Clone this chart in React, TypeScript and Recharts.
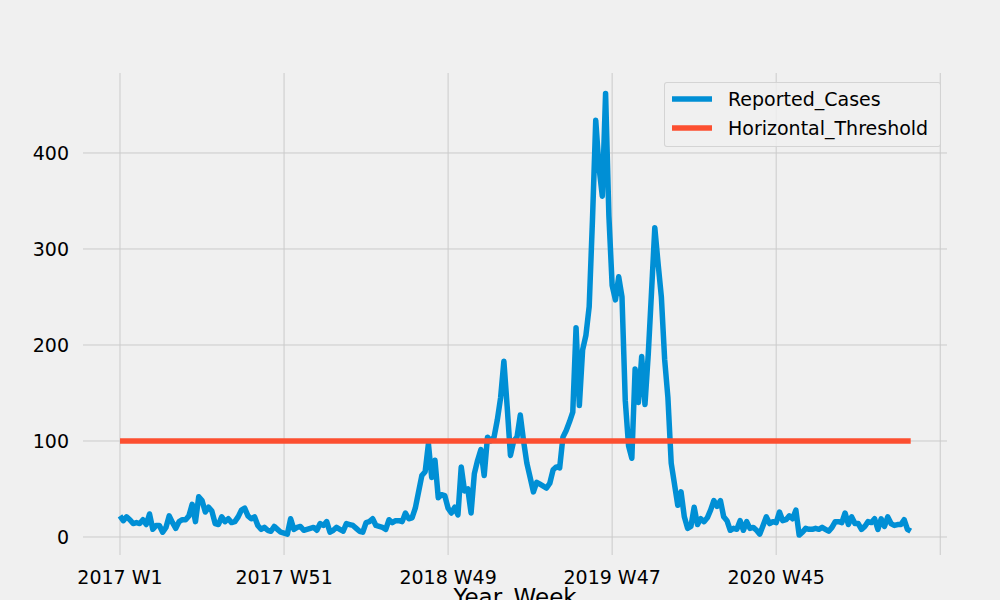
import React from "react";
import {
  LineChart,
  Line,
  CartesianGrid,
  XAxis,
  YAxis,
} from "recharts";

// weekly reported cases, starting 2017 W1
const reportedCases = [
  22, 17, 21, 18, 14, 15, 14, 18, 13, 24,
  8, 12, 12, 5, 10, 22, 15, 9, 16, 18,
  18, 22, 34, 16, 42, 38, 26, 31, 27, 14,
  13, 21, 16, 19, 15, 16, 21, 28, 30, 22,
  19, 21, 12, 8, 10, 7, 6, 11, 8, 5,
  4, 3, 19, 8, 10, 11, 7, 8, 9, 10,
  7, 14, 12, 16, 5, 7, 10, 8, 6, 14,
  13, 12, 9, 6, 5, 15, 16, 19, 12, 11,
  10, 8, 18, 15, 17, 17, 16, 25, 19, 20,
  30, 47, 64, 68, 97, 62, 80, 41, 44, 43,
  30, 25, 31, 23, 73, 48, 50, 25, 66, 80,
  91, 64, 104, 100, 104, 122, 145, 183, 136, 85,
  100, 104, 127, 100, 77, 62, 47, 57, 55, 53,
  51, 56, 70, 73, 72, 104, 111, 120, 130, 218,
  137, 195, 210, 240, 330, 434, 385, 355, 462, 335,
  262, 247, 271, 250, 142, 95, 82, 175, 140, 188,
  138, 190, 255, 322, 285, 250, 185, 145, 77, 55,
  33, 47, 21, 9, 11, 31, 13, 19, 16, 20,
  28, 38, 32, 38, 21, 17, 7, 9, 8, 17,
  7, 16, 9, 10, 7, 3, 12, 21, 14, 16,
  15, 26, 17, 18, 22, 19, 28, 2, 5, 9,
  8, 8, 9, 8, 10, 8, 6, 10, 16, 16,
  15, 25, 13, 21, 14, 14, 8, 11, 16, 15,
  19, 8, 19, 11, 21, 14, 12, 13, 13, 18,
  8, 6,
];

const THRESHOLD = 100;

const xTicks = [0, 50, 100, 150, 200, 250];
const xTickLabels = ["2017 W1", "2017 W51", "2018 W49", "2019 W47", "2020 W45", ""];
const yTicks = [0, 100, 200, 300, 400];

const BLUE = "#008fd5";
const RED = "#fc4f30";
const BG = "#f0f0f0";
const FONT = "'DejaVu Sans', sans-serif";

const data = reportedCases.map((v, i) => ({
  idx: i,
  Reported_Cases: v,
  Horizontal_Threshold: THRESHOLD,
}));

const legendItems = [
  { name: "Reported_Cases", color: BLUE },
  { name: "Horizontal_Threshold", color: RED },
];

// drawn on top of the chart so it doesn't shrink the plot area
const LegendBox = () => (
  <div
    style={{
      position: "absolute",
      left: 664,
      top: 82,
      width: 277,
      height: 65,
      boxSizing: "border-box",
      background: "rgba(240,240,240,0.8)",
      border: "1px solid rgba(204,204,204,0.8)",
      borderRadius: 3,
      fontFamily: FONT,
      fontSize: 19,
      color: "#000",
    }}
  >
    {legendItems.map((it, i) => (
      <div
        key={it.name}
        style={{ position: "absolute", left: 0, top: 4 + i * 29, height: 24, width: 277 }}
      >
        <svg width={50} height={24} style={{ position: "absolute", left: 7, top: 0 }}>
          <line x1={0} y1={12} x2={40} y2={12} stroke={it.color} strokeWidth={5.5} />
        </svg>
        <span style={{ position: "absolute", left: 63, top: 0, lineHeight: "24px" }}>{it.name}</span>
      </div>
    ))}
  </div>
);

export default function App() {
  return (
    <div style={{ position: "absolute", left: 0, top: 0, width: 1000, height: 600, background: BG }}>
      <LineChart
        width={1000}
        height={600}
        data={data}
        margin={{ top: 73, right: 53, left: 0, bottom: 0 }}
        style={{ background: BG }}
      >
        {/* grid only at the tick values, no frame around the plot */}
        <CartesianGrid stroke="#cbcbcb" strokeWidth={1} syncWithTicks />
        <XAxis
          dataKey="idx"
          type="number"
          domain={[-11.28, 252.06]}
          allowDataOverflow
          ticks={xTicks}
          interval={0}
          tickFormatter={(v: number) => xTickLabels[xTicks.indexOf(v)] ?? ""}
          height={45}
          axisLine={false}
          tickLine={false}
          tickMargin={10}
          tick={{ fill: "#000", fontSize: 19, fontFamily: FONT }}
          label={{
            value: "Year_Week",
            position: "insideBottom",
            offset: -5,
            fill: "#000",
            fontSize: 23,
            fontFamily: FONT,
          }}
        />
        <YAxis
          type="number"
          domain={[-18.75, 483.3]}
          allowDataOverflow
          ticks={yTicks}
          interval={0}
          width={83}
          axisLine={false}
          tickLine={false}
          tickMargin={8}
          tick={{ fill: "#000", fontSize: 19, fontFamily: FONT }}
        />
        <Line
          type="linear"
          dataKey="Reported_Cases"
          stroke={BLUE}
          strokeWidth={5.5}
          strokeLinejoin="round"
          dot={false}
          activeDot={false}
          isAnimationActive={false}
        />
        <Line
          type="linear"
          dataKey="Horizontal_Threshold"
          stroke={RED}
          strokeWidth={5.5}
          dot={false}
          activeDot={false}
          isAnimationActive={false}
        />
      </LineChart>
      <LegendBox />
    </div>
  );
}
